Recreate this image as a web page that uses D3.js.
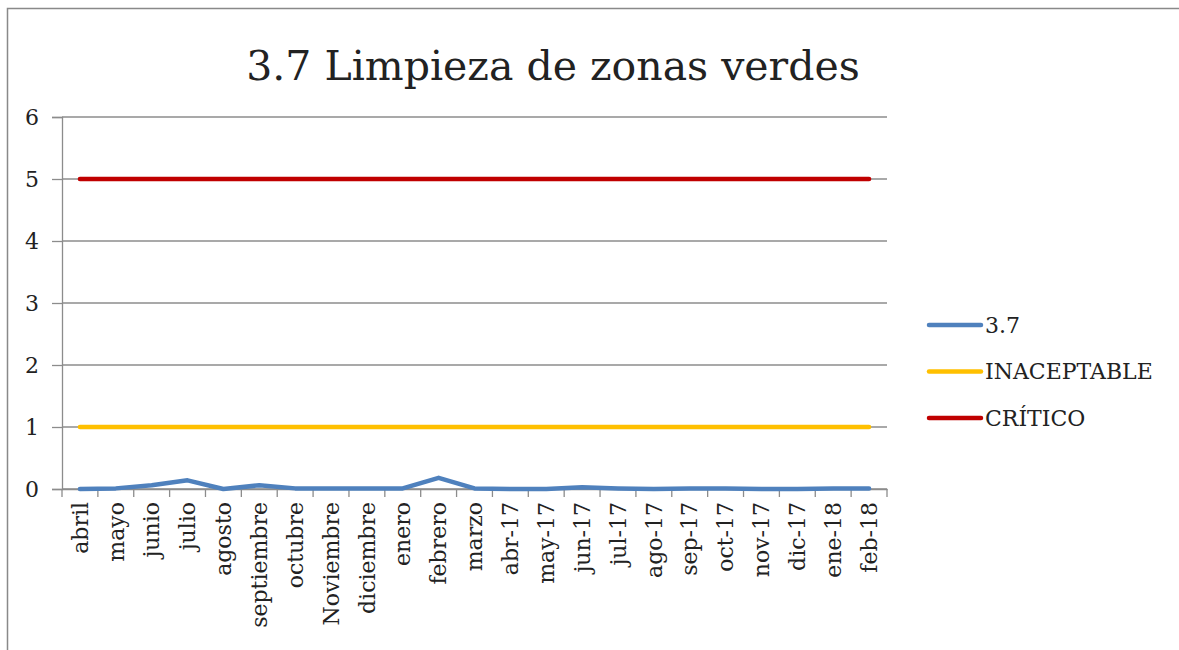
<!DOCTYPE html>
<html>
<head>
<meta charset="utf-8">
<script src="https://cdn.jsdelivr.net/npm/d3@7"></script>
<style>
  body { margin: 0; background: #fff; }
  text { font-family: "DejaVu Serif", serif; fill: #222; }
</style>
</head>
<body>
<div id="chart"></div>
<script>
// categories and series
var months = ['abril','mayo','junio','julio','agosto','septiembre','octubre','Noviembre','diciembre','enero','febrero','marzo',
  'abr-17','may-17','jun-17','jul-17','ago-17','sep-17','oct-17','nov-17','dic-17','ene-18','feb-18'];
var serie37 = [0, 0.01, 0.06, 0.14, 0, 0.06, 0.01, 0.01, 0.01, 0.01, 0.18, 0.01,
  0, 0, 0.03, 0.01, 0, 0.01, 0.01, 0, 0, 0.01, 0.01];
var inaceptable = months.map(function(){ return 1; });
var critico = months.map(function(){ return 5; });
var yTicks = [0,1,2,3,4,5,6];

var series = [
  {name: '3.7', values: serie37, color: '#4f81bd'},
  {name: 'INACEPTABLE', values: inaceptable, color: '#ffc000'},
  {name: 'CRÍTICO', values: critico, color: '#c00000'}
];

var width = 1179, height = 650;
var margin = {left: 62, right: 292, top: 117, bottom: 161};

var svg = d3.select('#chart').append('svg')
  .attr('width', width)
  .attr('height', height);

// chart frame
svg.append('rect')
  .attr('x', 7.5).attr('y', 8.5)
  .attr('width', 1190).attr('height', 660)
  .attr('fill', 'none').attr('stroke', '#898989').attr('stroke-width', 1.5);

var x = d3.scaleBand()
  .domain(months)
  .range([margin.left, width - margin.right]);

var y = d3.scaleLinear()
  .domain([0, 6])
  .range([height - margin.bottom, margin.top]);

// gridlines
svg.append('g')
  .selectAll('line')
  .data(yTicks)
  .enter().append('line')
  .attr('x1', margin.left).attr('x2', width - margin.right)
  .attr('y1', function(d){ return y(d); })
  .attr('y2', function(d){ return y(d); })
  .attr('stroke', '#8c8c8c').attr('stroke-width', 1.3);

// y axis
var yAxis = svg.append('g')
  .attr('transform', 'translate(' + margin.left + ',0)')
  .call(d3.axisLeft(y).tickValues(yTicks).tickFormat(d3.format('d')).tickSize(10).tickPadding(13));
yAxis.selectAll('text').style('font-size', '22px');
yAxis.selectAll('line,path').attr('stroke', '#8c8c8c').attr('stroke-width', 1.3);

// x axis with ticks at category boundaries
var xAxis = svg.append('g')
  .attr('transform', 'translate(0,' + y(0) + ')')
  .call(d3.axisBottom(x).tickSize(0).tickPadding(0));
xAxis.select('path').attr('stroke', '#8c8c8c').attr('stroke-width', 1.3);
xAxis.selectAll('text')
  .style('font-size', '22px')
  .attr('text-anchor', 'end')
  .attr('dy', '0.35em')
  .attr('transform', 'translate(0,13) rotate(-90)')
  .attr('x', 0).attr('y', 0);

var bounds = months.map(function(m){ return x(m); }).concat([width - margin.right]);
svg.append('g')
  .selectAll('line')
  .data(bounds)
  .enter().append('line')
  .attr('x1', function(d){ return d; }).attr('x2', function(d){ return d; })
  .attr('y1', y(0)).attr('y2', y(0) + 8)
  .attr('stroke', '#8c8c8c').attr('stroke-width', 1.3);

// lines
var line = d3.line()
  .x(function(d, i){ return x(months[i]) + x.bandwidth() / 2; })
  .y(function(d){ return y(d); });

svg.append('g')
  .selectAll('path')
  .data(series.slice().reverse())
  .enter().append('path')
  .attr('d', function(d){ return line(d.values); })
  .attr('fill', 'none')
  .attr('stroke', function(d){ return d.color; })
  .attr('stroke-width', 4.5)
  .attr('stroke-linecap', 'round')
  .attr('stroke-linejoin', 'round');

// title
svg.append('text')
  .attr('x', 553).attr('y', 80)
  .attr('text-anchor', 'middle')
  .style('font-size', '41px')
  .text('3.7 Limpieza de zonas verdes');

// legend
var legend = svg.append('g')
  .selectAll('g')
  .data(series)
  .enter().append('g')
  .attr('transform', function(d, i){ return 'translate(929,' + (325 + i * 46.5) + ')'; });
legend.append('line')
  .attr('x1', 0).attr('x2', 52)
  .attr('stroke', function(d){ return d.color; })
  .attr('stroke-width', 4.5)
  .attr('stroke-linecap', 'round');
legend.append('text')
  .attr('x', 56).attr('dy', '0.35em')
  .style('font-size', '22px')
  .text(function(d){ return d.name; });
</script>
</body>
</html>
